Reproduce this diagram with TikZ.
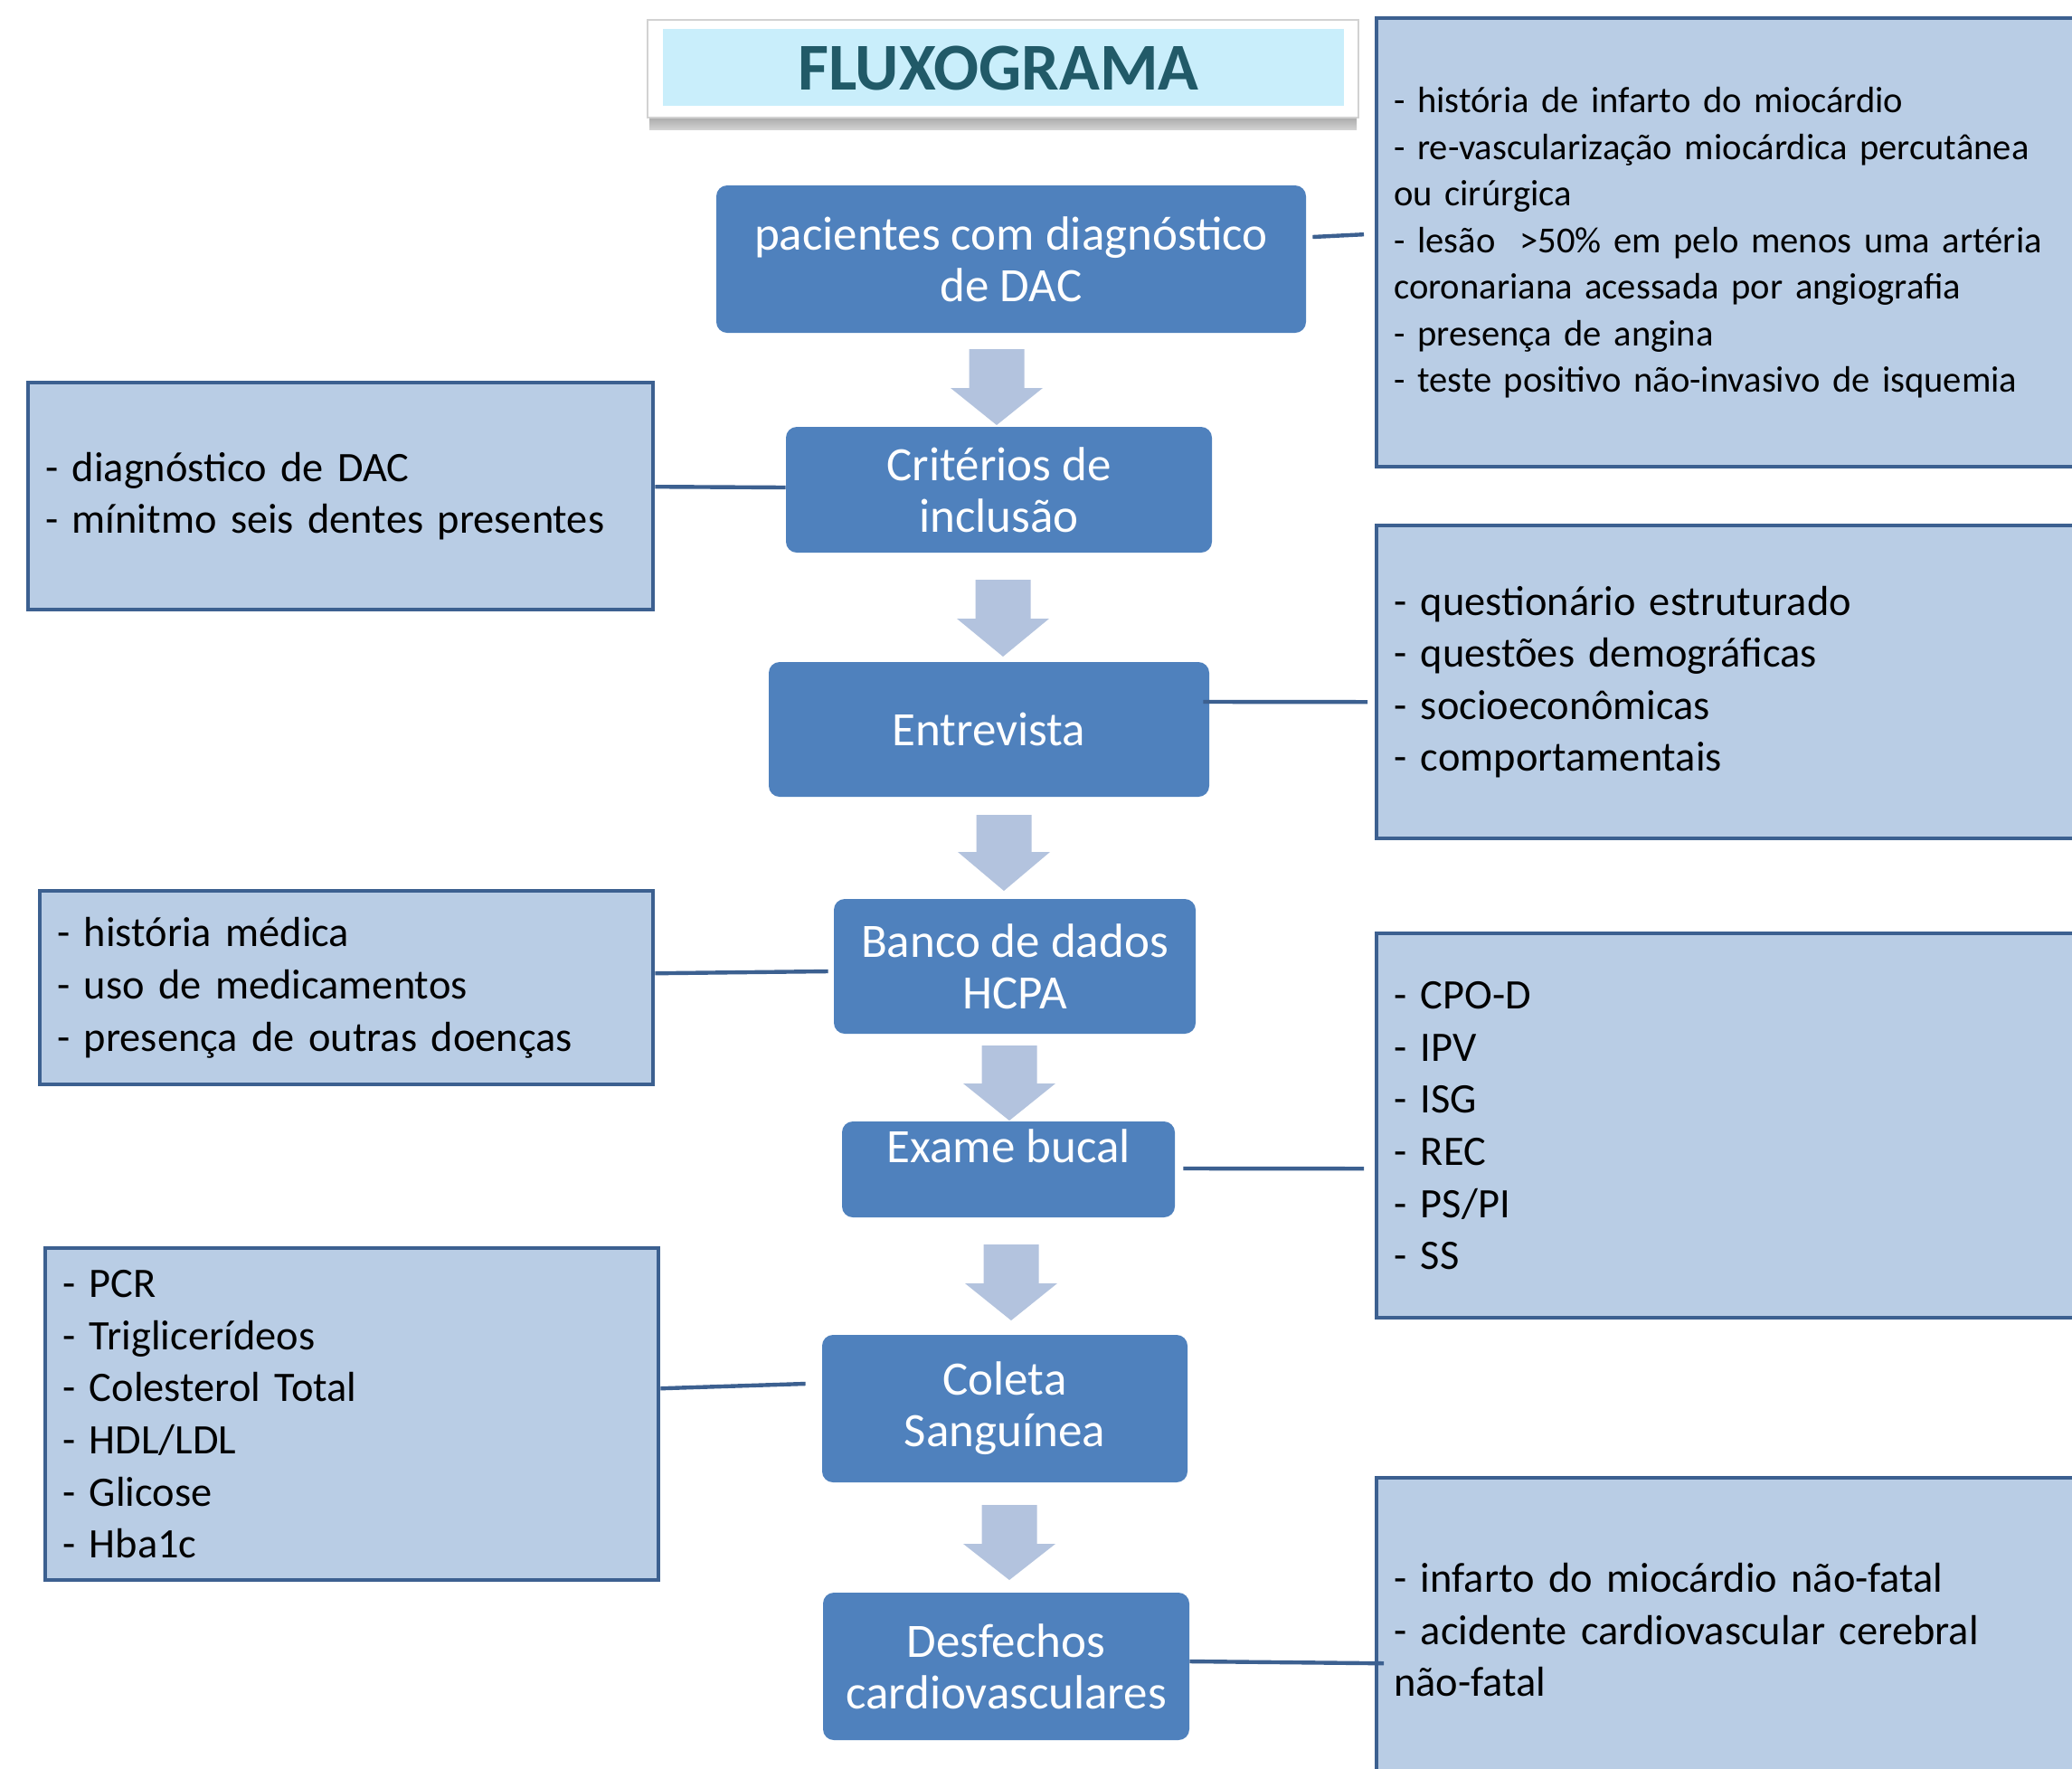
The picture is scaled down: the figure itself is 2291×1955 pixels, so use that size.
\documentclass[tikz,border=0pt]{standalone}
\usepackage{fontspec}
\setmainfont{Carlito}
\usetikzlibrary{calc}
\definecolor{cblue}{HTML}{4F81BD}
\definecolor{sfill}{HTML}{B9CDE5}
\definecolor{sborder}{HTML}{3C6090}
\definecolor{afill}{HTML}{B3C3DE}
\definecolor{ttl}{HTML}{215A68}
\definecolor{tbg}{HTML}{C9EEFB}
\begin{document}
\begin{tikzpicture}[x=0.5pt,y=-0.5pt,
  cbox/.style={rectangle, rounded corners=6pt, fill=cblue, text=white, align=center,
    inner sep=0pt, font=\fontsize{26.5}{28.5}\selectfont},
  ctext/.style={text=white, align=center, inner sep=0pt, font=\fontsize{26.5}{28.5}\selectfont},
  sbox/.style={rectangle, anchor=north west, fill=sfill, draw=sborder, line width=2.2pt,
    align=left, inner xsep=9.5pt, inner ysep=0pt, font=\fontsize{23.2}{28.8}\selectfont},
  sboxsmall/.style={sbox, font=\fontsize{20.3}{25.75}\selectfont},
  blockarrow/.style={fill=afill},
  conn/.style={draw=sborder, line width=2.2pt}]
\useasboundingbox (0,0) rectangle (2291,1955);
\clip (0,0) rectangle (2291,1955);
\fill[white] (0,0) rectangle (2291,1955);

% title
\shade[top color=gray!95, bottom color=gray!35] (718,118) rectangle (1500,143);
\node[draw=gray!35, line width=0.8pt, fill=white, minimum width=393pt, minimum height=54pt,
  inner sep=0pt] (tframe) at (1109,76) {};
\node[fill=tbg, minimum width=376.5pt, minimum height=42.5pt, inner sep=0pt] (tinner)
  at (1109.5,74.5) {};
\node[inner sep=0pt, text=ttl, font=\fontsize{37}{40}\selectfont\bfseries] (title)
  at (1104,76) {FLUXOGRAMA};

% block arrows
\foreach \cx/\tp/\hs/\tip in {1102/386/429/470, 1109/641/684/726, 1110/901/942/985,
    1116/1156/1198/1239, 1118/1376/1419/1460, 1116/1664/1707/1747}
  \fill[blockarrow] (\cx-30.5,\tp) -- (\cx+30.5,\tp) -- (\cx+30.5,\hs) -- (\cx+51,\hs)
    -- (\cx,\tip) -- (\cx-51,\hs) -- (\cx-30.5,\hs) -- cycle;

% central boxes
\node[cbox, minimum width=326pt, minimum height=81.5pt] (n1) at (1118,286.5)
  {pacientes com diagnóstico\\de DAC};
\node[cbox, minimum width=235.5pt, minimum height=69.5pt] (n2) at (1104.5,541.5)
  {Critérios de\\inclusão};
\node[cbox, minimum width=243.5pt, minimum height=74.5pt] (n3) at (1093.5,806.5)
  {Entrevista};
\node[cbox, minimum width=200pt, minimum height=74.5pt] (n4) at (1122,1068.5)
  {Banco de dados\\HCPA};
\node[cbox, minimum width=184pt, minimum height=53pt] (n5) at (1115,1293) {};
\node[ctext] (n5t) at ([yshift=-14pt]n5.north) {Exame bucal};
\node[cbox, minimum width=202pt, minimum height=81.5pt] (n6) at (1111,1557.5)
  {Coleta\\Sanguínea};
\node[cbox, minimum width=202.5pt, minimum height=81.5pt] (n7) at (1112.5,1842.5)
  {Desfechos\\cardiovasculares};

% side boxes
\node[sbox, text width=326.5pt, minimum height=125.5pt] (L1) at (29,421)
  {- diagnóstico de DAC\\- mínitmo seis dentes presentes};
\node[sbox, text width=320pt, minimum height=107pt] (L2) at (42,983)
  {- história médica\\- uso de medicamentos\\- presença de outras doenças};
\node[sbox, text width=320pt, minimum height=183.5pt] (L3) at (48,1378)
  {- PCR\\- Triglicerídeos\\- Colesterol Total\\- HDL/LDL\\- Glicose\\- Hba1c};
\node[sboxsmall, text width=381pt, minimum height=248pt] (R1) at (1520,18)
  {- história de infarto do miocárdio\\- re-vascularização miocárdica percutânea\\ou cirúrgica\\- lesão\ \ >50\% em pelo menos uma artéria\\coronariana acessada por angiografia\\- presença de angina\\- teste positivo não-invasivo de isquemia};
\node[sbox, text width=381pt, minimum height=173pt] (R2) at (1520,579)
  {- questionário estruturado\\- questões demográficas\\- socioeconômicas\\- comportamentais};
\node[sbox, text width=381pt, minimum height=212.5pt] (R3) at (1520,1030)
  {- CPO-D\\- IPV\\- ISG\\- REC\\- PS/PI\\- SS};
\node[sbox, text width=381pt, minimum height=168pt] (R4) at (1520,1632)
  {- infarto do miocárdio não-fatal\\- acidente cardiovascular cerebral\\não-fatal};

% connectors
\draw[conn] ([shift={(7,-24.5)}]n1.east) -- ([shift={(-12,-9)}]R1.west);
\draw[conn] ([shift={(0,-10.5)}]L1.east) -- ([shift={(0,-2.5)}]n2.west);
\draw[conn] ([shift={(-7,-30.5)}]n3.east) -- ([shift={(-8,22)}]R2.west);
\draw[conn] ([shift={(0,-16)}]L2.east) -- ([shift={(-6,5.5)}]n4.west);
\draw[conn] ([shift={(9,-1)}]n5.east) -- ([shift={(-12,47.5)}]R3.west);
\draw[conn] ([shift={(0,-28.5)}]L3.east) -- ([shift={(-18,-27.5)}]n6.west);
\draw[conn] ([shift={(0,-5.5)}]n7.east) -- ([shift={(10,37)}]R4.west);
\end{tikzpicture}
\end{document}
